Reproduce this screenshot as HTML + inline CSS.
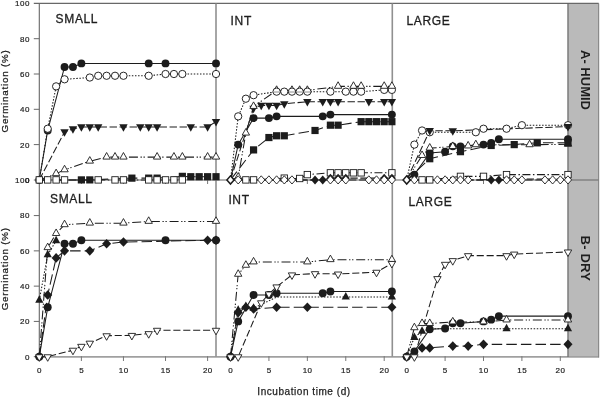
<!DOCTYPE html>
<html lang="en"><head><meta charset="utf-8"><title>Germination vs incubation time</title>
<style>html,body{margin:0;padding:0;background:#fff}svg{display:block}</style></head>
<body>
<svg width="600" height="397" viewBox="0 0 600 397" font-family="'Liberation Sans', Arial, sans-serif">
<rect width="600" height="397" fill="#fff"/>
<rect x="568.40" y="3.4" width="30.30" height="353.30" fill="#bababa"/>
<g id="axes">
<line x1="33.80" y1="3.40" x2="598.70" y2="3.40" stroke="#686868" stroke-width="1.1"/>
<line x1="33.80" y1="180.00" x2="39.30" y2="180.00" stroke="#686868" stroke-width="1.0"/>
<line x1="39.30" y1="180.00" x2="598.70" y2="180.00" stroke="#666" stroke-width="1.1"/>
<line x1="33.80" y1="356.70" x2="39.30" y2="356.70" stroke="#686868" stroke-width="1.0"/>
<line x1="39.30" y1="356.90" x2="598.70" y2="356.90" stroke="#a0a0a0" stroke-width="1.8"/>
<line x1="39.30" y1="3.40" x2="39.30" y2="356.70" stroke="#666" stroke-width="1.1"/>
<line x1="216.00" y1="3.40" x2="216.00" y2="356.70" stroke="#909090" stroke-width="1.6"/>
<line x1="392.30" y1="3.40" x2="392.30" y2="356.70" stroke="#909090" stroke-width="1.6"/>
<line x1="568.00" y1="3.40" x2="568.00" y2="356.70" stroke="#5a5a5a" stroke-width="1.2"/>
<line x1="598.70" y1="3.40" x2="598.70" y2="357.60" stroke="#7a7a7a" stroke-width="1.0"/>
<line x1="33.80" y1="144.60" x2="39.30" y2="144.60" stroke="#686868" stroke-width="1.0"/>
<line x1="33.80" y1="321.42" x2="39.30" y2="321.42" stroke="#686868" stroke-width="1.0"/>
<line x1="33.80" y1="109.30" x2="39.30" y2="109.30" stroke="#686868" stroke-width="1.0"/>
<line x1="33.80" y1="286.14" x2="39.30" y2="286.14" stroke="#686868" stroke-width="1.0"/>
<line x1="33.80" y1="74.00" x2="39.30" y2="74.00" stroke="#686868" stroke-width="1.0"/>
<line x1="33.80" y1="250.86" x2="39.30" y2="250.86" stroke="#686868" stroke-width="1.0"/>
<line x1="33.80" y1="38.70" x2="39.30" y2="38.70" stroke="#686868" stroke-width="1.0"/>
<line x1="33.80" y1="215.58" x2="39.30" y2="215.58" stroke="#686868" stroke-width="1.0"/>
<line x1="39.30" y1="356.70" x2="39.30" y2="360.90" stroke="#5e5e5e" stroke-width="0.9"/>
<line x1="81.38" y1="180.00" x2="81.38" y2="184.00" stroke="#777" stroke-width="1.0"/>
<line x1="81.38" y1="356.20" x2="81.38" y2="361.00" stroke="#777" stroke-width="1.0"/>
<line x1="123.45" y1="180.00" x2="123.45" y2="184.00" stroke="#777" stroke-width="1.0"/>
<line x1="123.45" y1="356.20" x2="123.45" y2="361.00" stroke="#777" stroke-width="1.0"/>
<line x1="165.52" y1="180.00" x2="165.52" y2="184.00" stroke="#777" stroke-width="1.0"/>
<line x1="165.52" y1="356.20" x2="165.52" y2="361.00" stroke="#777" stroke-width="1.0"/>
<line x1="207.60" y1="180.00" x2="207.60" y2="184.00" stroke="#777" stroke-width="1.0"/>
<line x1="207.60" y1="356.20" x2="207.60" y2="361.00" stroke="#777" stroke-width="1.0"/>
<line x1="230.50" y1="180.00" x2="230.50" y2="184.00" stroke="#777" stroke-width="1.0"/>
<line x1="230.50" y1="356.20" x2="230.50" y2="361.00" stroke="#777" stroke-width="1.0"/>
<line x1="268.93" y1="180.00" x2="268.93" y2="184.00" stroke="#777" stroke-width="1.0"/>
<line x1="268.93" y1="356.20" x2="268.93" y2="361.00" stroke="#777" stroke-width="1.0"/>
<line x1="307.35" y1="180.00" x2="307.35" y2="184.00" stroke="#777" stroke-width="1.0"/>
<line x1="307.35" y1="356.20" x2="307.35" y2="361.00" stroke="#777" stroke-width="1.0"/>
<line x1="345.77" y1="180.00" x2="345.77" y2="184.00" stroke="#777" stroke-width="1.0"/>
<line x1="345.77" y1="356.20" x2="345.77" y2="361.00" stroke="#777" stroke-width="1.0"/>
<line x1="384.20" y1="180.00" x2="384.20" y2="184.00" stroke="#777" stroke-width="1.0"/>
<line x1="384.20" y1="356.20" x2="384.20" y2="361.00" stroke="#777" stroke-width="1.0"/>
<line x1="406.70" y1="180.00" x2="406.70" y2="184.00" stroke="#777" stroke-width="1.0"/>
<line x1="406.70" y1="356.20" x2="406.70" y2="361.00" stroke="#777" stroke-width="1.0"/>
<line x1="445.10" y1="180.00" x2="445.10" y2="184.00" stroke="#777" stroke-width="1.0"/>
<line x1="445.10" y1="356.20" x2="445.10" y2="361.00" stroke="#777" stroke-width="1.0"/>
<line x1="483.50" y1="180.00" x2="483.50" y2="184.00" stroke="#777" stroke-width="1.0"/>
<line x1="483.50" y1="356.20" x2="483.50" y2="361.00" stroke="#777" stroke-width="1.0"/>
<line x1="521.90" y1="180.00" x2="521.90" y2="184.00" stroke="#777" stroke-width="1.0"/>
<line x1="521.90" y1="356.20" x2="521.90" y2="361.00" stroke="#777" stroke-width="1.0"/>
<line x1="560.30" y1="180.00" x2="560.30" y2="184.00" stroke="#777" stroke-width="1.0"/>
<line x1="560.30" y1="356.20" x2="560.30" y2="361.00" stroke="#777" stroke-width="1.0"/>
</g>
<g id="AS">
<polyline points="39.30,179.90 47.71,130.48 64.54,66.94 72.96,66.94 81.38,63.41 148.69,63.41 165.52,63.41 216.01,63.41" fill="none" stroke="#1c1c1c" stroke-width="1.05"/>
<polyline points="39.30,179.90 47.71,128.72 56.13,86.36 64.54,79.30 89.79,77.53 98.20,75.77 106.62,75.77 115.03,75.77 123.45,75.77 148.69,75.77 165.52,74.00 173.94,74.00 182.35,74.00 216.01,74.00" fill="none" stroke="#1c1c1c" stroke-width="1.05" stroke-dasharray="1.5,1.6"/>
<polyline points="39.30,179.90 64.54,131.89 72.96,128.89 81.38,126.95 89.79,126.95 98.20,126.95 123.45,126.95 140.28,126.95 148.69,126.95 157.11,126.95 190.77,126.95 207.60,126.95 216.01,121.66" fill="none" stroke="#1c1c1c" stroke-width="1.05" stroke-dasharray="7.4,2.6"/>
<polyline points="39.30,179.90 56.13,173.72 64.54,169.84 89.79,161.19 106.62,157.13 115.03,157.13 123.45,157.13 157.11,157.13 173.94,157.13 182.35,157.13 207.60,157.13 216.01,157.13" fill="none" stroke="#1c1c1c" stroke-width="1.05" stroke-dasharray="9,2.6,1.3,1.7,1.3,2.8"/>
<polyline points="39.30,179.90 81.38,179.90 89.79,179.90 131.87,178.14 148.69,178.14 157.11,178.14 182.35,176.37 190.77,176.72 199.19,176.72 207.60,176.72 216.01,176.72" fill="none" stroke="#1c1c1c" stroke-width="1.05" stroke-dasharray="10.5,4.1"/>
<polyline points="39.30,179.90 47.71,179.90 56.13,179.90 64.54,179.90 98.20,179.90 115.03,179.90 123.45,179.90 148.69,179.90 157.11,179.90 165.52,179.90 173.94,179.90 182.35,179.90" fill="none" stroke="#1c1c1c" stroke-width="1.05" stroke-dasharray="8,2.5,1.5,2.5"/>
<circle cx="39.30" cy="179.90" r="3.95" fill="#1c1c1c"/>
<circle cx="47.71" cy="130.48" r="3.95" fill="#1c1c1c"/>
<circle cx="64.54" cy="66.94" r="3.95" fill="#1c1c1c"/>
<circle cx="72.96" cy="66.94" r="3.95" fill="#1c1c1c"/>
<circle cx="81.38" cy="63.41" r="3.95" fill="#1c1c1c"/>
<circle cx="148.69" cy="63.41" r="3.95" fill="#1c1c1c"/>
<circle cx="165.52" cy="63.41" r="3.95" fill="#1c1c1c"/>
<circle cx="216.01" cy="63.41" r="3.95" fill="#1c1c1c"/>
<circle cx="47.71" cy="128.72" r="3.65" fill="#fff" stroke="#1c1c1c" stroke-width="0.95"/>
<circle cx="56.13" cy="86.36" r="3.65" fill="#fff" stroke="#1c1c1c" stroke-width="0.95"/>
<circle cx="64.54" cy="79.30" r="3.65" fill="#fff" stroke="#1c1c1c" stroke-width="0.95"/>
<circle cx="89.79" cy="77.53" r="3.65" fill="#fff" stroke="#1c1c1c" stroke-width="0.95"/>
<circle cx="98.20" cy="75.77" r="3.65" fill="#fff" stroke="#1c1c1c" stroke-width="0.95"/>
<circle cx="106.62" cy="75.77" r="3.65" fill="#fff" stroke="#1c1c1c" stroke-width="0.95"/>
<circle cx="115.03" cy="75.77" r="3.65" fill="#fff" stroke="#1c1c1c" stroke-width="0.95"/>
<circle cx="123.45" cy="75.77" r="3.65" fill="#fff" stroke="#1c1c1c" stroke-width="0.95"/>
<circle cx="148.69" cy="75.77" r="3.65" fill="#fff" stroke="#1c1c1c" stroke-width="0.95"/>
<circle cx="165.52" cy="74.00" r="3.65" fill="#fff" stroke="#1c1c1c" stroke-width="0.95"/>
<circle cx="173.94" cy="74.00" r="3.65" fill="#fff" stroke="#1c1c1c" stroke-width="0.95"/>
<circle cx="182.35" cy="74.00" r="3.65" fill="#fff" stroke="#1c1c1c" stroke-width="0.95"/>
<circle cx="216.01" cy="74.00" r="3.65" fill="#fff" stroke="#1c1c1c" stroke-width="0.95"/>
<polygon points="60.34,129.29 68.74,129.29 64.54,136.79" fill="#1c1c1c"/>
<polygon points="68.76,126.29 77.16,126.29 72.96,133.79" fill="#1c1c1c"/>
<polygon points="77.17,124.35 85.58,124.35 81.38,131.85" fill="#1c1c1c"/>
<polygon points="85.59,124.35 93.99,124.35 89.79,131.85" fill="#1c1c1c"/>
<polygon points="94.00,124.35 102.40,124.35 98.20,131.85" fill="#1c1c1c"/>
<polygon points="119.25,124.35 127.65,124.35 123.45,131.85" fill="#1c1c1c"/>
<polygon points="136.08,124.35 144.48,124.35 140.28,131.85" fill="#1c1c1c"/>
<polygon points="144.50,124.35 152.89,124.35 148.69,131.85" fill="#1c1c1c"/>
<polygon points="152.91,124.35 161.31,124.35 157.11,131.85" fill="#1c1c1c"/>
<polygon points="186.57,124.35 194.97,124.35 190.77,131.85" fill="#1c1c1c"/>
<polygon points="203.40,124.35 211.80,124.35 207.60,131.85" fill="#1c1c1c"/>
<polygon points="211.81,119.06 220.21,119.06 216.01,126.56" fill="#1c1c1c"/>
<polygon points="56.13,169.12 59.83,175.67 52.43,175.67" fill="#fff" stroke="#1c1c1c" stroke-width="0.9"/>
<polygon points="64.54,165.24 68.24,171.79 60.84,171.79" fill="#fff" stroke="#1c1c1c" stroke-width="0.9"/>
<polygon points="89.79,156.59 93.49,163.14 86.09,163.14" fill="#fff" stroke="#1c1c1c" stroke-width="0.9"/>
<polygon points="106.62,152.53 110.32,159.08 102.92,159.08" fill="#fff" stroke="#1c1c1c" stroke-width="0.9"/>
<polygon points="115.03,152.53 118.73,159.08 111.33,159.08" fill="#fff" stroke="#1c1c1c" stroke-width="0.9"/>
<polygon points="123.45,152.53 127.15,159.08 119.75,159.08" fill="#fff" stroke="#1c1c1c" stroke-width="0.9"/>
<polygon points="157.11,152.53 160.81,159.08 153.41,159.08" fill="#fff" stroke="#1c1c1c" stroke-width="0.9"/>
<polygon points="173.94,152.53 177.64,159.08 170.24,159.08" fill="#fff" stroke="#1c1c1c" stroke-width="0.9"/>
<polygon points="182.35,152.53 186.05,159.08 178.65,159.08" fill="#fff" stroke="#1c1c1c" stroke-width="0.9"/>
<polygon points="207.60,152.53 211.30,159.08 203.90,159.08" fill="#fff" stroke="#1c1c1c" stroke-width="0.9"/>
<polygon points="216.01,152.53 219.71,159.08 212.31,159.08" fill="#fff" stroke="#1c1c1c" stroke-width="0.9"/>
<rect x="77.78" y="176.30" width="7.2" height="7.2" fill="#1c1c1c"/>
<rect x="86.19" y="176.30" width="7.2" height="7.2" fill="#1c1c1c"/>
<rect x="128.27" y="174.54" width="7.2" height="7.2" fill="#1c1c1c"/>
<rect x="145.09" y="174.54" width="7.2" height="7.2" fill="#1c1c1c"/>
<rect x="153.51" y="174.54" width="7.2" height="7.2" fill="#1c1c1c"/>
<rect x="178.75" y="172.77" width="7.2" height="7.2" fill="#1c1c1c"/>
<rect x="187.17" y="173.12" width="7.2" height="7.2" fill="#1c1c1c"/>
<rect x="195.59" y="173.12" width="7.2" height="7.2" fill="#1c1c1c"/>
<rect x="204.00" y="173.12" width="7.2" height="7.2" fill="#1c1c1c"/>
<rect x="212.41" y="173.12" width="7.2" height="7.2" fill="#1c1c1c"/>
<rect x="36.10" y="176.70" width="6.4" height="6.4" fill="#fff" stroke="#1c1c1c" stroke-width="0.9"/>
<rect x="44.51" y="176.70" width="6.4" height="6.4" fill="#fff" stroke="#1c1c1c" stroke-width="0.9"/>
<rect x="52.93" y="176.70" width="6.4" height="6.4" fill="#fff" stroke="#1c1c1c" stroke-width="0.9"/>
<rect x="61.34" y="176.70" width="6.4" height="6.4" fill="#fff" stroke="#1c1c1c" stroke-width="0.9"/>
<rect x="95.00" y="176.70" width="6.4" height="6.4" fill="#fff" stroke="#1c1c1c" stroke-width="0.9"/>
<rect x="111.83" y="176.70" width="6.4" height="6.4" fill="#fff" stroke="#1c1c1c" stroke-width="0.9"/>
<rect x="120.25" y="176.70" width="6.4" height="6.4" fill="#fff" stroke="#1c1c1c" stroke-width="0.9"/>
<rect x="145.50" y="176.70" width="6.4" height="6.4" fill="#fff" stroke="#1c1c1c" stroke-width="0.9"/>
<rect x="153.91" y="176.70" width="6.4" height="6.4" fill="#fff" stroke="#1c1c1c" stroke-width="0.9"/>
<rect x="162.32" y="176.70" width="6.4" height="6.4" fill="#fff" stroke="#1c1c1c" stroke-width="0.9"/>
<rect x="170.74" y="176.70" width="6.4" height="6.4" fill="#fff" stroke="#1c1c1c" stroke-width="0.9"/>
<rect x="179.15" y="176.70" width="6.4" height="6.4" fill="#fff" stroke="#1c1c1c" stroke-width="0.9"/>
</g>
<g id="AI">
<polyline points="230.50,179.90 238.19,144.60 253.56,118.12 268.93,118.12 276.61,116.36 322.72,116.36 330.40,114.60 391.88,114.60" fill="none" stroke="#1c1c1c" stroke-width="1.05"/>
<polyline points="230.50,179.90 253.56,108.24 261.24,105.42 268.93,105.42 276.61,105.42 284.30,103.83 307.35,101.71 322.72,101.71 330.40,101.71 338.09,101.71 368.83,101.71 384.20,101.71 391.88,101.71" fill="none" stroke="#1c1c1c" stroke-width="1.05" stroke-dasharray="7.4,2.6"/>
<polyline points="230.50,179.90 238.19,177.25 245.87,133.13 253.56,106.48 276.61,90.41 291.98,90.41 299.66,90.41 307.35,90.41 338.09,86.36 353.46,86.36 361.14,86.36 384.20,86.36 391.88,86.36" fill="none" stroke="#1c1c1c" stroke-width="1.05" stroke-dasharray="9,2.6,1.3,1.7,1.3,2.8"/>
<polyline points="230.50,179.90 238.19,116.36 245.87,98.71 253.56,95.18 276.61,91.65 284.30,91.65 291.98,91.65 299.66,91.65 307.35,91.65 330.40,91.65 345.77,91.65 353.46,91.65 361.14,91.65 384.20,89.89 391.88,89.89" fill="none" stroke="#1c1c1c" stroke-width="1.05" stroke-dasharray="1.5,1.6"/>

<polyline points="230.50,179.90 253.56,149.90 268.93,137.54 276.61,135.78 284.30,135.78 315.03,130.48 330.40,125.19 338.09,125.19 361.14,121.66 368.83,121.66 376.51,121.66 384.20,121.66 391.88,121.66" fill="none" stroke="#1c1c1c" stroke-width="1.05" stroke-dasharray="10.5,4.1"/>
<polyline points="230.50,179.90 245.87,179.90 253.56,179.90 284.30,178.14 299.66,178.49 307.35,174.61 330.40,172.84 338.09,172.84 345.77,172.84 353.46,172.84 361.14,172.84 391.88,172.84" fill="none" stroke="#1c1c1c" stroke-width="1.05" stroke-dasharray="8,2.5,1.5,2.5"/>
<polyline points="230.50,179.90 315.03,179.90 322.72,179.90 330.40,178.14 338.09,178.14 345.77,178.14 384.20,178.14 391.88,178.14" fill="none" stroke="#1c1c1c" stroke-width="1.05" stroke-dasharray="7.4,2.6"/>
<polyline points="230.50,179.90 238.19,179.90 261.24,179.90 268.93,179.90 276.61,179.90 284.30,179.90 291.98,179.90 330.40,179.90 338.09,179.90 345.77,179.90 368.83,179.90 376.51,179.90 384.20,179.90 391.88,179.90" fill="none" stroke="#1c1c1c" stroke-width="1.05" stroke-dasharray="7.1,2.8"/>
<circle cx="238.19" cy="144.60" r="3.95" fill="#1c1c1c"/>
<circle cx="253.56" cy="118.12" r="3.95" fill="#1c1c1c"/>
<circle cx="268.93" cy="118.12" r="3.95" fill="#1c1c1c"/>
<circle cx="276.61" cy="116.36" r="3.95" fill="#1c1c1c"/>
<circle cx="322.72" cy="116.36" r="3.95" fill="#1c1c1c"/>
<circle cx="330.40" cy="114.60" r="3.95" fill="#1c1c1c"/>
<circle cx="391.88" cy="114.60" r="3.95" fill="#1c1c1c"/>
<polygon points="249.36,105.64 257.75,105.64 253.56,113.14" fill="#1c1c1c"/>
<polygon points="257.04,102.82 265.44,102.82 261.24,110.32" fill="#1c1c1c"/>
<polygon points="264.73,102.82 273.12,102.82 268.93,110.32" fill="#1c1c1c"/>
<polygon points="272.41,102.82 280.81,102.82 276.61,110.32" fill="#1c1c1c"/>
<polygon points="280.10,101.23 288.50,101.23 284.30,108.73" fill="#1c1c1c"/>
<polygon points="303.15,99.11 311.55,99.11 307.35,106.61" fill="#1c1c1c"/>
<polygon points="318.52,99.11 326.92,99.11 322.72,106.61" fill="#1c1c1c"/>
<polygon points="326.20,99.11 334.60,99.11 330.40,106.61" fill="#1c1c1c"/>
<polygon points="333.89,99.11 342.29,99.11 338.09,106.61" fill="#1c1c1c"/>
<polygon points="364.63,99.11 373.03,99.11 368.83,106.61" fill="#1c1c1c"/>
<polygon points="380.00,99.11 388.40,99.11 384.20,106.61" fill="#1c1c1c"/>
<polygon points="387.69,99.11 396.08,99.11 391.88,106.61" fill="#1c1c1c"/>
<polygon points="238.19,172.65 241.88,179.20 234.49,179.20" fill="#fff" stroke="#1c1c1c" stroke-width="0.9"/>
<polygon points="245.87,128.53 249.57,135.08 242.17,135.08" fill="#fff" stroke="#1c1c1c" stroke-width="0.9"/>
<polygon points="253.56,101.88 257.25,108.43 249.86,108.43" fill="#fff" stroke="#1c1c1c" stroke-width="0.9"/>
<polygon points="276.61,85.81 280.31,92.36 272.91,92.36" fill="#fff" stroke="#1c1c1c" stroke-width="0.9"/>
<polygon points="291.98,85.81 295.68,92.36 288.28,92.36" fill="#fff" stroke="#1c1c1c" stroke-width="0.9"/>
<polygon points="299.66,85.81 303.36,92.36 295.96,92.36" fill="#fff" stroke="#1c1c1c" stroke-width="0.9"/>
<polygon points="307.35,85.81 311.05,92.36 303.65,92.36" fill="#fff" stroke="#1c1c1c" stroke-width="0.9"/>
<circle cx="238.19" cy="116.36" r="3.65" fill="#fff" stroke="#1c1c1c" stroke-width="0.95"/>
<circle cx="245.87" cy="98.71" r="3.65" fill="#fff" stroke="#1c1c1c" stroke-width="0.95"/>
<circle cx="253.56" cy="95.18" r="3.65" fill="#fff" stroke="#1c1c1c" stroke-width="0.95"/>
<circle cx="276.61" cy="91.65" r="3.65" fill="#fff" stroke="#1c1c1c" stroke-width="0.95"/>
<circle cx="284.30" cy="91.65" r="3.65" fill="#fff" stroke="#1c1c1c" stroke-width="0.95"/>
<circle cx="291.98" cy="91.65" r="3.65" fill="#fff" stroke="#1c1c1c" stroke-width="0.95"/>
<circle cx="299.66" cy="91.65" r="3.65" fill="#fff" stroke="#1c1c1c" stroke-width="0.95"/>
<circle cx="307.35" cy="91.65" r="3.65" fill="#fff" stroke="#1c1c1c" stroke-width="0.95"/>
<circle cx="330.40" cy="91.65" r="3.65" fill="#fff" stroke="#1c1c1c" stroke-width="0.95"/>
<circle cx="345.77" cy="91.65" r="3.65" fill="#fff" stroke="#1c1c1c" stroke-width="0.95"/>
<circle cx="353.46" cy="91.65" r="3.65" fill="#fff" stroke="#1c1c1c" stroke-width="0.95"/>
<circle cx="361.14" cy="91.65" r="3.65" fill="#fff" stroke="#1c1c1c" stroke-width="0.95"/>
<circle cx="384.20" cy="89.89" r="3.65" fill="#fff" stroke="#1c1c1c" stroke-width="0.95"/>
<circle cx="391.88" cy="89.89" r="3.65" fill="#fff" stroke="#1c1c1c" stroke-width="0.95"/>
<polygon points="338.09,81.76 341.79,88.31 334.39,88.31" fill="#fff" stroke="#1c1c1c" stroke-width="0.9"/>
<polygon points="353.46,81.76 357.16,88.31 349.76,88.31" fill="#fff" stroke="#1c1c1c" stroke-width="0.9"/>
<polygon points="361.14,81.76 364.84,88.31 357.44,88.31" fill="#fff" stroke="#1c1c1c" stroke-width="0.9"/>
<polygon points="384.20,81.76 387.90,88.31 380.50,88.31" fill="#fff" stroke="#1c1c1c" stroke-width="0.9"/>
<polygon points="391.88,81.76 395.58,88.31 388.19,88.31" fill="#fff" stroke="#1c1c1c" stroke-width="0.9"/>
<rect x="249.96" y="146.30" width="7.2" height="7.2" fill="#1c1c1c"/>
<rect x="265.32" y="133.94" width="7.2" height="7.2" fill="#1c1c1c"/>
<rect x="273.01" y="132.18" width="7.2" height="7.2" fill="#1c1c1c"/>
<rect x="280.69" y="132.18" width="7.2" height="7.2" fill="#1c1c1c"/>
<rect x="311.43" y="126.88" width="7.2" height="7.2" fill="#1c1c1c"/>
<rect x="326.80" y="121.59" width="7.2" height="7.2" fill="#1c1c1c"/>
<rect x="334.49" y="121.59" width="7.2" height="7.2" fill="#1c1c1c"/>
<rect x="357.54" y="118.06" width="7.2" height="7.2" fill="#1c1c1c"/>
<rect x="365.23" y="118.06" width="7.2" height="7.2" fill="#1c1c1c"/>
<rect x="372.91" y="118.06" width="7.2" height="7.2" fill="#1c1c1c"/>
<rect x="380.60" y="118.06" width="7.2" height="7.2" fill="#1c1c1c"/>
<rect x="388.28" y="118.06" width="7.2" height="7.2" fill="#1c1c1c"/>
<rect x="242.67" y="176.70" width="6.4" height="6.4" fill="#fff" stroke="#1c1c1c" stroke-width="0.9"/>
<rect x="250.36" y="176.70" width="6.4" height="6.4" fill="#fff" stroke="#1c1c1c" stroke-width="0.9"/>
<rect x="281.10" y="174.94" width="6.4" height="6.4" fill="#fff" stroke="#1c1c1c" stroke-width="0.9"/>
<rect x="296.46" y="175.29" width="6.4" height="6.4" fill="#fff" stroke="#1c1c1c" stroke-width="0.9"/>
<rect x="304.15" y="171.41" width="6.4" height="6.4" fill="#fff" stroke="#1c1c1c" stroke-width="0.9"/>
<rect x="327.20" y="169.64" width="6.4" height="6.4" fill="#fff" stroke="#1c1c1c" stroke-width="0.9"/>
<rect x="334.89" y="169.64" width="6.4" height="6.4" fill="#fff" stroke="#1c1c1c" stroke-width="0.9"/>
<rect x="342.57" y="169.64" width="6.4" height="6.4" fill="#fff" stroke="#1c1c1c" stroke-width="0.9"/>
<rect x="350.26" y="169.64" width="6.4" height="6.4" fill="#fff" stroke="#1c1c1c" stroke-width="0.9"/>
<rect x="357.94" y="169.64" width="6.4" height="6.4" fill="#fff" stroke="#1c1c1c" stroke-width="0.9"/>
<rect x="388.69" y="169.64" width="6.4" height="6.4" fill="#fff" stroke="#1c1c1c" stroke-width="0.9"/>
<polygon points="315.03,175.40 319.03,179.90 315.03,184.40 311.03,179.90" fill="#1c1c1c"/>
<polygon points="322.72,175.40 326.72,179.90 322.72,184.40 318.72,179.90" fill="#1c1c1c"/>
<polygon points="330.40,173.64 334.40,178.14 330.40,182.64 326.40,178.14" fill="#1c1c1c"/>
<polygon points="338.09,173.64 342.09,178.14 338.09,182.64 334.09,178.14" fill="#1c1c1c"/>
<polygon points="345.77,173.64 349.77,178.14 345.77,182.64 341.77,178.14" fill="#1c1c1c"/>
<polygon points="384.20,173.64 388.20,178.14 384.20,182.64 380.20,178.14" fill="#1c1c1c"/>
<polygon points="391.88,173.64 395.88,178.14 391.88,182.64 387.88,178.14" fill="#1c1c1c"/>
<polygon points="230.50,175.80 234.10,179.90 230.50,184.00 226.90,179.90" fill="#fff" stroke="#1c1c1c" stroke-width="1.5"/>
<polygon points="238.19,175.80 241.78,179.90 238.19,184.00 234.59,179.90" fill="#fff" stroke="#1c1c1c" stroke-width="0.9"/>
<polygon points="261.24,175.80 264.84,179.90 261.24,184.00 257.64,179.90" fill="#fff" stroke="#1c1c1c" stroke-width="0.9"/>
<polygon points="268.93,175.80 272.53,179.90 268.93,184.00 265.32,179.90" fill="#fff" stroke="#1c1c1c" stroke-width="0.9"/>
<polygon points="276.61,175.80 280.21,179.90 276.61,184.00 273.01,179.90" fill="#fff" stroke="#1c1c1c" stroke-width="0.9"/>
<polygon points="284.30,175.80 287.90,179.90 284.30,184.00 280.69,179.90" fill="#fff" stroke="#1c1c1c" stroke-width="0.9"/>
<polygon points="291.98,175.80 295.58,179.90 291.98,184.00 288.38,179.90" fill="#fff" stroke="#1c1c1c" stroke-width="0.9"/>
<polygon points="330.40,175.80 334.00,179.90 330.40,184.00 326.80,179.90" fill="#fff" stroke="#1c1c1c" stroke-width="0.9"/>
<polygon points="338.09,175.80 341.69,179.90 338.09,184.00 334.49,179.90" fill="#fff" stroke="#1c1c1c" stroke-width="0.9"/>
<polygon points="345.77,175.80 349.38,179.90 345.77,184.00 342.17,179.90" fill="#fff" stroke="#1c1c1c" stroke-width="0.9"/>
<polygon points="368.83,175.80 372.43,179.90 368.83,184.00 365.23,179.90" fill="#fff" stroke="#1c1c1c" stroke-width="0.9"/>
<polygon points="376.51,175.80 380.12,179.90 376.51,184.00 372.91,179.90" fill="#fff" stroke="#1c1c1c" stroke-width="0.9"/>
<polygon points="384.20,175.80 387.80,179.90 384.20,184.00 380.60,179.90" fill="#fff" stroke="#1c1c1c" stroke-width="0.9"/>
<polygon points="391.88,175.80 395.49,179.90 391.88,184.00 388.28,179.90" fill="#fff" stroke="#1c1c1c" stroke-width="0.9"/>
</g>
<g id="AL">
<polyline points="406.70,179.90 414.38,174.61 429.74,152.90 445.10,151.66 452.78,146.37 460.46,146.37 483.50,144.60 491.18,142.84 498.86,139.31 567.98,139.31" fill="none" stroke="#1c1c1c" stroke-width="1.05"/>
<polyline points="406.70,179.90 414.38,144.60 422.06,130.48 429.74,132.25 475.82,132.25 483.50,128.72 506.54,128.72 521.90,125.19 567.98,125.19" fill="none" stroke="#1c1c1c" stroke-width="1.05" stroke-dasharray="1.5,1.6"/>
<polyline points="406.70,179.90 429.74,130.66 452.78,130.83 567.98,126.60" fill="none" stroke="#1c1c1c" stroke-width="1.05" stroke-dasharray="7.4,2.6"/>
<polyline points="406.70,179.90 422.06,155.54 429.74,148.13 452.78,146.54 468.14,146.01 475.82,144.78 529.58,144.78 567.98,144.25" fill="none" stroke="#1c1c1c" stroke-width="1.05" stroke-dasharray="9,2.6,1.3,1.7,1.3,2.8"/>
<polyline points="406.70,179.90 429.74,158.72 460.46,151.66 491.18,145.48 514.22,144.60 537.26,142.84 567.98,142.84" fill="none" stroke="#1c1c1c" stroke-width="1.05" stroke-dasharray="10.5,4.1"/>
<polyline points="406.70,179.90 422.06,179.90 429.74,179.90 460.46,176.37 483.50,176.37 506.54,174.61 567.98,174.61" fill="none" stroke="#1c1c1c" stroke-width="1.05" stroke-dasharray="8,2.5,1.5,2.5"/>
<polyline points="406.70,179.90 491.18,179.90 498.86,179.90 506.54,179.02 567.98,179.02" fill="none" stroke="#1c1c1c" stroke-width="1.05" stroke-dasharray="7.4,2.6"/>
<polyline points="406.70,179.90 414.38,179.90 437.42,179.90 445.10,179.90 452.78,179.90 460.46,179.90 468.14,179.90 506.54,179.90 514.22,179.90 521.90,179.90 544.94,179.90 552.62,179.90 560.30,179.90 567.98,179.90" fill="none" stroke="#1c1c1c" stroke-width="1.05" stroke-dasharray="7.1,2.8"/>
<circle cx="414.38" cy="174.61" r="3.95" fill="#1c1c1c"/>
<circle cx="429.74" cy="152.90" r="3.95" fill="#1c1c1c"/>
<circle cx="445.10" cy="151.66" r="3.95" fill="#1c1c1c"/>
<circle cx="452.78" cy="146.37" r="3.95" fill="#1c1c1c"/>
<circle cx="460.46" cy="146.37" r="3.95" fill="#1c1c1c"/>
<circle cx="483.50" cy="144.60" r="3.95" fill="#1c1c1c"/>
<circle cx="491.18" cy="142.84" r="3.95" fill="#1c1c1c"/>
<circle cx="498.86" cy="139.31" r="3.95" fill="#1c1c1c"/>
<circle cx="567.98" cy="139.31" r="3.95" fill="#1c1c1c"/>
<circle cx="414.38" cy="144.60" r="3.65" fill="#fff" stroke="#1c1c1c" stroke-width="0.95"/>
<circle cx="422.06" cy="130.48" r="3.65" fill="#fff" stroke="#1c1c1c" stroke-width="0.95"/>
<circle cx="429.74" cy="132.25" r="3.65" fill="#fff" stroke="#1c1c1c" stroke-width="0.95"/>
<circle cx="475.82" cy="132.25" r="3.65" fill="#fff" stroke="#1c1c1c" stroke-width="0.95"/>
<circle cx="483.50" cy="128.72" r="3.65" fill="#fff" stroke="#1c1c1c" stroke-width="0.95"/>
<circle cx="506.54" cy="128.72" r="3.65" fill="#fff" stroke="#1c1c1c" stroke-width="0.95"/>
<circle cx="521.90" cy="125.19" r="3.65" fill="#fff" stroke="#1c1c1c" stroke-width="0.95"/>
<circle cx="567.98" cy="125.19" r="3.65" fill="#fff" stroke="#1c1c1c" stroke-width="0.95"/>
<polygon points="425.54,128.06 433.94,128.06 429.74,135.56" fill="#1c1c1c"/>
<polygon points="448.58,128.23 456.98,128.23 452.78,135.73" fill="#1c1c1c"/>
<polygon points="563.78,124.00 572.18,124.00 567.98,131.50" fill="#1c1c1c"/>
<polygon points="422.06,150.94 425.76,157.49 418.36,157.49" fill="#fff" stroke="#1c1c1c" stroke-width="0.9"/>
<polygon points="429.74,143.53 433.44,150.08 426.04,150.08" fill="#fff" stroke="#1c1c1c" stroke-width="0.9"/>
<polygon points="452.78,141.94 456.48,148.49 449.08,148.49" fill="#fff" stroke="#1c1c1c" stroke-width="0.9"/>
<polygon points="468.14,141.41 471.84,147.96 464.44,147.96" fill="#fff" stroke="#1c1c1c" stroke-width="0.9"/>
<polygon points="475.82,140.18 479.52,146.73 472.12,146.73" fill="#fff" stroke="#1c1c1c" stroke-width="0.9"/>
<polygon points="529.58,140.18 533.28,146.73 525.88,146.73" fill="#fff" stroke="#1c1c1c" stroke-width="0.9"/>
<polygon points="567.98,139.65 571.68,146.20 564.28,146.20" fill="#fff" stroke="#1c1c1c" stroke-width="0.9"/>
<rect x="426.14" y="155.12" width="7.2" height="7.2" fill="#1c1c1c"/>
<rect x="456.86" y="148.06" width="7.2" height="7.2" fill="#1c1c1c"/>
<rect x="487.58" y="141.88" width="7.2" height="7.2" fill="#1c1c1c"/>
<rect x="510.62" y="141.00" width="7.2" height="7.2" fill="#1c1c1c"/>
<rect x="533.66" y="139.24" width="7.2" height="7.2" fill="#1c1c1c"/>
<rect x="564.38" y="139.24" width="7.2" height="7.2" fill="#1c1c1c"/>
<rect x="418.86" y="176.70" width="6.4" height="6.4" fill="#fff" stroke="#1c1c1c" stroke-width="0.9"/>
<rect x="426.54" y="176.70" width="6.4" height="6.4" fill="#fff" stroke="#1c1c1c" stroke-width="0.9"/>
<rect x="457.26" y="173.17" width="6.4" height="6.4" fill="#fff" stroke="#1c1c1c" stroke-width="0.9"/>
<rect x="480.30" y="173.17" width="6.4" height="6.4" fill="#fff" stroke="#1c1c1c" stroke-width="0.9"/>
<rect x="503.34" y="171.41" width="6.4" height="6.4" fill="#fff" stroke="#1c1c1c" stroke-width="0.9"/>
<rect x="564.78" y="171.41" width="6.4" height="6.4" fill="#fff" stroke="#1c1c1c" stroke-width="0.9"/>
<polygon points="491.18,175.40 495.18,179.90 491.18,184.40 487.18,179.90" fill="#1c1c1c"/>
<polygon points="498.86,175.40 502.86,179.90 498.86,184.40 494.86,179.90" fill="#1c1c1c"/>
<polygon points="406.70,175.80 410.30,179.90 406.70,184.00 403.10,179.90" fill="#fff" stroke="#1c1c1c" stroke-width="1.5"/>
<polygon points="414.38,175.80 417.98,179.90 414.38,184.00 410.78,179.90" fill="#fff" stroke="#1c1c1c" stroke-width="0.9"/>
<polygon points="437.42,175.80 441.02,179.90 437.42,184.00 433.82,179.90" fill="#fff" stroke="#1c1c1c" stroke-width="0.9"/>
<polygon points="445.10,175.80 448.70,179.90 445.10,184.00 441.50,179.90" fill="#fff" stroke="#1c1c1c" stroke-width="0.9"/>
<polygon points="452.78,175.80 456.38,179.90 452.78,184.00 449.18,179.90" fill="#fff" stroke="#1c1c1c" stroke-width="0.9"/>
<polygon points="460.46,175.80 464.06,179.90 460.46,184.00 456.86,179.90" fill="#fff" stroke="#1c1c1c" stroke-width="0.9"/>
<polygon points="468.14,175.80 471.74,179.90 468.14,184.00 464.54,179.90" fill="#fff" stroke="#1c1c1c" stroke-width="0.9"/>
<polygon points="506.54,175.80 510.14,179.90 506.54,184.00 502.94,179.90" fill="#fff" stroke="#1c1c1c" stroke-width="0.9"/>
<polygon points="514.22,175.80 517.82,179.90 514.22,184.00 510.62,179.90" fill="#fff" stroke="#1c1c1c" stroke-width="0.9"/>
<polygon points="521.90,175.80 525.50,179.90 521.90,184.00 518.30,179.90" fill="#fff" stroke="#1c1c1c" stroke-width="0.9"/>
<polygon points="544.94,175.80 548.54,179.90 544.94,184.00 541.34,179.90" fill="#fff" stroke="#1c1c1c" stroke-width="0.9"/>
<polygon points="552.62,175.80 556.22,179.90 552.62,184.00 549.02,179.90" fill="#fff" stroke="#1c1c1c" stroke-width="0.9"/>
<polygon points="560.30,175.80 563.90,179.90 560.30,184.00 556.70,179.90" fill="#fff" stroke="#1c1c1c" stroke-width="0.9"/>
<polygon points="567.98,175.80 571.58,179.90 567.98,184.00 564.38,179.90" fill="#fff" stroke="#1c1c1c" stroke-width="0.9"/>
</g>
<g id="BS">
<polyline points="39.30,356.70 47.71,307.31 64.54,243.80 72.96,243.80 81.38,240.28 165.52,240.28 216.01,240.28" fill="none" stroke="#1c1c1c" stroke-width="1.05"/>
<polyline points="39.30,300.25 47.71,254.74 56.13,240.81" fill="none" stroke="#1c1c1c" stroke-width="1.05" stroke-dasharray="1.5,1.6"/>
<polyline points="39.30,356.70 47.71,294.96 56.13,257.92 64.54,250.86 89.79,250.86 106.62,243.80 123.45,242.04 207.60,240.28 216.01,240.28" fill="none" stroke="#1c1c1c" stroke-width="1.05" stroke-dasharray="10.5,4.1"/>
<polyline points="39.30,356.70 47.71,247.68 56.13,233.57 64.54,224.75 89.79,223.17 123.45,223.17 148.69,221.40 216.01,221.40" fill="none" stroke="#1c1c1c" stroke-width="1.05" stroke-dasharray="9,2.6,1.3,1.7,1.3,2.8"/>
<polyline points="39.30,356.70 47.71,356.70 72.96,350.17 81.38,346.29 89.79,343.12 106.62,335.71 131.87,335.36 148.69,333.59 157.11,330.24 216.01,330.24" fill="none" stroke="#1c1c1c" stroke-width="1.05" stroke-dasharray="7.1,2.8"/>
<circle cx="39.30" cy="356.70" r="3.95" fill="#1c1c1c"/>
<circle cx="47.71" cy="307.31" r="3.95" fill="#1c1c1c"/>
<circle cx="64.54" cy="243.80" r="3.95" fill="#1c1c1c"/>
<circle cx="72.96" cy="243.80" r="3.95" fill="#1c1c1c"/>
<circle cx="81.38" cy="240.28" r="3.95" fill="#1c1c1c"/>
<circle cx="165.52" cy="240.28" r="3.95" fill="#1c1c1c"/>
<circle cx="216.01" cy="240.28" r="3.95" fill="#1c1c1c"/>
<polygon points="39.30,295.25 43.40,302.75 35.20,302.75" fill="#1c1c1c"/>
<polygon points="47.71,249.74 51.81,257.24 43.61,257.24" fill="#1c1c1c"/>
<polygon points="56.13,235.81 60.23,243.31 52.03,243.31" fill="#1c1c1c"/>
<polygon points="39.30,351.90 43.85,356.70 39.30,361.50 34.75,356.70" fill="#1c1c1c"/>
<polygon points="47.71,290.16 52.26,294.96 47.71,299.76 43.16,294.96" fill="#1c1c1c"/>
<polygon points="56.13,253.12 60.68,257.92 56.13,262.72 51.58,257.92" fill="#1c1c1c"/>
<polygon points="64.54,246.06 69.09,250.86 64.54,255.66 59.99,250.86" fill="#1c1c1c"/>
<polygon points="89.79,246.06 94.34,250.86 89.79,255.66 85.24,250.86" fill="#1c1c1c"/>
<polygon points="106.62,239.00 111.17,243.80 106.62,248.60 102.07,243.80" fill="#1c1c1c"/>
<polygon points="123.45,237.24 128.00,242.04 123.45,246.84 118.90,242.04" fill="#1c1c1c"/>
<polygon points="207.60,235.48 212.15,240.28 207.60,245.08 203.05,240.28" fill="#1c1c1c"/>
<polygon points="216.01,235.48 220.56,240.28 216.01,245.08 211.46,240.28" fill="#1c1c1c"/>
<polygon points="47.71,243.08 51.41,249.63 44.01,249.63" fill="#fff" stroke="#1c1c1c" stroke-width="0.9"/>
<polygon points="56.13,228.97 59.83,235.52 52.43,235.52" fill="#fff" stroke="#1c1c1c" stroke-width="0.9"/>
<polygon points="64.54,220.15 68.24,226.70 60.84,226.70" fill="#fff" stroke="#1c1c1c" stroke-width="0.9"/>
<polygon points="89.79,218.57 93.49,225.12 86.09,225.12" fill="#fff" stroke="#1c1c1c" stroke-width="0.9"/>
<polygon points="123.45,218.57 127.15,225.12 119.75,225.12" fill="#fff" stroke="#1c1c1c" stroke-width="0.9"/>
<polygon points="148.69,216.80 152.39,223.35 145.00,223.35" fill="#fff" stroke="#1c1c1c" stroke-width="0.9"/>
<polygon points="216.01,216.80 219.71,223.35 212.31,223.35" fill="#fff" stroke="#1c1c1c" stroke-width="0.9"/>
<polygon points="35.60,354.75 43.00,354.75 39.30,361.30" fill="#fff" stroke="#1c1c1c" stroke-width="0.9"/>
<polygon points="44.01,354.75 51.41,354.75 47.71,361.30" fill="#fff" stroke="#1c1c1c" stroke-width="0.9"/>
<polygon points="69.26,348.22 76.66,348.22 72.96,354.77" fill="#fff" stroke="#1c1c1c" stroke-width="0.9"/>
<polygon points="77.67,344.34 85.08,344.34 81.38,350.89" fill="#fff" stroke="#1c1c1c" stroke-width="0.9"/>
<polygon points="86.09,341.17 93.49,341.17 89.79,347.72" fill="#fff" stroke="#1c1c1c" stroke-width="0.9"/>
<polygon points="102.92,333.76 110.32,333.76 106.62,340.31" fill="#fff" stroke="#1c1c1c" stroke-width="0.9"/>
<polygon points="128.17,333.41 135.56,333.41 131.87,339.96" fill="#fff" stroke="#1c1c1c" stroke-width="0.9"/>
<polygon points="145.00,331.64 152.39,331.64 148.69,338.19" fill="#fff" stroke="#1c1c1c" stroke-width="0.9"/>
<polygon points="153.41,328.29 160.81,328.29 157.11,334.84" fill="#fff" stroke="#1c1c1c" stroke-width="0.9"/>
<polygon points="212.31,328.29 219.71,328.29 216.01,334.84" fill="#fff" stroke="#1c1c1c" stroke-width="0.9"/>
</g>
<g id="BI">
<polyline points="230.50,356.70 238.19,321.42 253.56,294.96 268.93,294.96 276.61,293.20 322.72,293.20 330.40,291.43 391.88,291.43" fill="none" stroke="#1c1c1c" stroke-width="1.05"/>
<polyline points="230.50,356.70 238.19,310.13 245.87,306.60 253.56,308.19 276.61,297.08 345.77,297.08 391.88,297.08" fill="none" stroke="#1c1c1c" stroke-width="1.05" stroke-dasharray="1.5,1.6"/>
<polyline points="230.50,356.70 238.19,312.60 245.87,307.31 253.56,309.07 276.61,307.31 307.35,307.31 391.88,307.31" fill="none" stroke="#1c1c1c" stroke-width="1.05" stroke-dasharray="10.5,4.1"/>
<polyline points="230.50,356.70 238.19,274.32 245.87,265.32 253.56,261.97 307.35,261.97 330.40,259.68 391.88,259.86" fill="none" stroke="#1c1c1c" stroke-width="1.05" stroke-dasharray="9,2.6,1.3,1.7,1.3,2.8"/>
<polyline points="230.50,356.70 238.19,356.70 261.24,302.72 268.93,293.90 276.61,286.85 291.98,274.85 315.03,273.62 338.09,273.97 376.51,272.20 391.88,263.38" fill="none" stroke="#1c1c1c" stroke-width="1.05" stroke-dasharray="7.1,2.8"/>
<circle cx="230.50" cy="356.70" r="3.95" fill="#1c1c1c"/>
<circle cx="238.19" cy="321.42" r="3.95" fill="#1c1c1c"/>
<circle cx="253.56" cy="294.96" r="3.95" fill="#1c1c1c"/>
<circle cx="268.93" cy="294.96" r="3.95" fill="#1c1c1c"/>
<circle cx="276.61" cy="293.20" r="3.95" fill="#1c1c1c"/>
<circle cx="322.72" cy="293.20" r="3.95" fill="#1c1c1c"/>
<circle cx="330.40" cy="291.43" r="3.95" fill="#1c1c1c"/>
<circle cx="391.88" cy="291.43" r="3.95" fill="#1c1c1c"/>
<polygon points="238.19,305.13 242.28,312.63 234.09,312.63" fill="#1c1c1c"/>
<polygon points="245.87,301.60 249.97,309.10 241.77,309.10" fill="#1c1c1c"/>
<polygon points="253.56,303.19 257.66,310.69 249.46,310.69" fill="#1c1c1c"/>
<polygon points="345.77,292.08 349.88,299.58 341.67,299.58" fill="#1c1c1c"/>
<polygon points="391.88,292.08 395.99,299.58 387.78,299.58" fill="#1c1c1c"/>
<polygon points="230.50,351.90 235.05,356.70 230.50,361.50 225.95,356.70" fill="#1c1c1c"/>
<polygon points="238.19,307.80 242.74,312.60 238.19,317.40 233.63,312.60" fill="#1c1c1c"/>
<polygon points="245.87,302.51 250.42,307.31 245.87,312.11 241.32,307.31" fill="#1c1c1c"/>
<polygon points="253.56,304.27 258.11,309.07 253.56,313.87 249.00,309.07" fill="#1c1c1c"/>
<polygon points="276.61,302.51 281.16,307.31 276.61,312.11 272.06,307.31" fill="#1c1c1c"/>
<polygon points="307.35,302.51 311.90,307.31 307.35,312.11 302.80,307.31" fill="#1c1c1c"/>
<polygon points="391.88,302.51 396.44,307.31 391.88,312.11 387.33,307.31" fill="#1c1c1c"/>
<polygon points="238.19,269.72 241.88,276.27 234.49,276.27" fill="#fff" stroke="#1c1c1c" stroke-width="0.9"/>
<polygon points="245.87,260.72 249.57,267.27 242.17,267.27" fill="#fff" stroke="#1c1c1c" stroke-width="0.9"/>
<polygon points="253.56,257.37 257.25,263.92 249.86,263.92" fill="#fff" stroke="#1c1c1c" stroke-width="0.9"/>
<polygon points="307.35,257.37 311.05,263.92 303.65,263.92" fill="#fff" stroke="#1c1c1c" stroke-width="0.9"/>
<polygon points="330.40,255.08 334.10,261.63 326.70,261.63" fill="#fff" stroke="#1c1c1c" stroke-width="0.9"/>
<polygon points="391.88,255.26 395.58,261.81 388.19,261.81" fill="#fff" stroke="#1c1c1c" stroke-width="0.9"/>
<polygon points="226.80,354.75 234.20,354.75 230.50,361.30" fill="#fff" stroke="#1c1c1c" stroke-width="0.9"/>
<polygon points="234.49,354.75 241.88,354.75 238.19,361.30" fill="#fff" stroke="#1c1c1c" stroke-width="0.9"/>
<polygon points="257.54,300.77 264.94,300.77 261.24,307.32" fill="#fff" stroke="#1c1c1c" stroke-width="0.9"/>
<polygon points="265.23,291.95 272.62,291.95 268.93,298.50" fill="#fff" stroke="#1c1c1c" stroke-width="0.9"/>
<polygon points="272.91,284.90 280.31,284.90 276.61,291.45" fill="#fff" stroke="#1c1c1c" stroke-width="0.9"/>
<polygon points="288.28,272.90 295.68,272.90 291.98,279.45" fill="#fff" stroke="#1c1c1c" stroke-width="0.9"/>
<polygon points="311.33,271.67 318.73,271.67 315.03,278.22" fill="#fff" stroke="#1c1c1c" stroke-width="0.9"/>
<polygon points="334.39,272.02 341.79,272.02 338.09,278.57" fill="#fff" stroke="#1c1c1c" stroke-width="0.9"/>
<polygon points="372.81,270.25 380.21,270.25 376.51,276.80" fill="#fff" stroke="#1c1c1c" stroke-width="0.9"/>
<polygon points="388.19,261.43 395.58,261.43 391.88,267.98" fill="#fff" stroke="#1c1c1c" stroke-width="0.9"/>
</g>
<g id="BL">
<polyline points="406.70,356.70 414.38,351.41 429.74,329.18 445.10,328.48 452.78,323.18 460.46,323.18 483.50,321.42 491.18,319.66 498.86,316.13 567.98,316.13" fill="none" stroke="#1c1c1c" stroke-width="1.05"/>
<polyline points="406.70,356.70 414.38,337.47 422.06,331.30 429.74,328.65 506.54,328.65 567.98,328.65" fill="none" stroke="#1c1c1c" stroke-width="1.05" stroke-dasharray="1.5,1.6"/>
<polyline points="406.70,356.70 414.38,351.41 422.06,347.88 429.74,347.88 452.78,346.12 468.14,346.12 483.50,344.35 567.98,344.35" fill="none" stroke="#1c1c1c" stroke-width="1.05" stroke-dasharray="10.5,4.1"/>
<polyline points="406.70,356.70 414.38,327.77 422.06,323.54 429.74,323.54 452.78,321.95 483.50,321.95 506.54,320.01 567.98,320.01" fill="none" stroke="#1c1c1c" stroke-width="1.05" stroke-dasharray="9,2.6,1.3,1.7,1.3,2.8"/>
<polyline points="406.70,356.70 414.38,356.70 437.42,278.55 445.10,264.27 452.78,260.56 468.14,255.62 506.54,255.62 514.22,254.04 567.98,251.92" fill="none" stroke="#1c1c1c" stroke-width="1.05" stroke-dasharray="7.1,2.8"/>
<circle cx="406.70" cy="356.70" r="3.95" fill="#1c1c1c"/>
<circle cx="414.38" cy="351.41" r="3.95" fill="#1c1c1c"/>
<circle cx="429.74" cy="329.18" r="3.95" fill="#1c1c1c"/>
<circle cx="445.10" cy="328.48" r="3.95" fill="#1c1c1c"/>
<circle cx="452.78" cy="323.18" r="3.95" fill="#1c1c1c"/>
<circle cx="460.46" cy="323.18" r="3.95" fill="#1c1c1c"/>
<circle cx="483.50" cy="321.42" r="3.95" fill="#1c1c1c"/>
<circle cx="491.18" cy="319.66" r="3.95" fill="#1c1c1c"/>
<circle cx="498.86" cy="316.13" r="3.95" fill="#1c1c1c"/>
<circle cx="567.98" cy="316.13" r="3.95" fill="#1c1c1c"/>
<polygon points="414.38,332.47 418.48,339.97 410.28,339.97" fill="#1c1c1c"/>
<polygon points="422.06,326.30 426.16,333.80 417.96,333.80" fill="#1c1c1c"/>
<polygon points="506.54,323.65 510.64,331.15 502.44,331.15" fill="#1c1c1c"/>
<polygon points="567.98,323.65 572.08,331.15 563.88,331.15" fill="#1c1c1c"/>
<polygon points="406.70,351.90 411.25,356.70 406.70,361.50 402.15,356.70" fill="#1c1c1c"/>
<polygon points="422.06,343.08 426.61,347.88 422.06,352.68 417.51,347.88" fill="#1c1c1c"/>
<polygon points="429.74,343.08 434.29,347.88 429.74,352.68 425.19,347.88" fill="#1c1c1c"/>
<polygon points="452.78,341.32 457.33,346.12 452.78,350.92 448.23,346.12" fill="#1c1c1c"/>
<polygon points="468.14,341.32 472.69,346.12 468.14,350.92 463.59,346.12" fill="#1c1c1c"/>
<polygon points="483.50,339.55 488.05,344.35 483.50,349.15 478.95,344.35" fill="#1c1c1c"/>
<polygon points="567.98,339.55 572.53,344.35 567.98,349.15 563.43,344.35" fill="#1c1c1c"/>
<polygon points="414.38,323.17 418.08,329.72 410.68,329.72" fill="#fff" stroke="#1c1c1c" stroke-width="0.9"/>
<polygon points="422.06,318.94 425.76,325.49 418.36,325.49" fill="#fff" stroke="#1c1c1c" stroke-width="0.9"/>
<polygon points="429.74,318.94 433.44,325.49 426.04,325.49" fill="#fff" stroke="#1c1c1c" stroke-width="0.9"/>
<polygon points="452.78,317.35 456.48,323.90 449.08,323.90" fill="#fff" stroke="#1c1c1c" stroke-width="0.9"/>
<polygon points="483.50,317.35 487.20,323.90 479.80,323.90" fill="#fff" stroke="#1c1c1c" stroke-width="0.9"/>
<polygon points="506.54,315.41 510.24,321.96 502.84,321.96" fill="#fff" stroke="#1c1c1c" stroke-width="0.9"/>
<polygon points="567.98,315.41 571.68,321.96 564.28,321.96" fill="#fff" stroke="#1c1c1c" stroke-width="0.9"/>
<polygon points="403.00,354.75 410.40,354.75 406.70,361.30" fill="#fff" stroke="#1c1c1c" stroke-width="0.9"/>
<polygon points="410.68,354.75 418.08,354.75 414.38,361.30" fill="#fff" stroke="#1c1c1c" stroke-width="0.9"/>
<polygon points="433.72,276.60 441.12,276.60 437.42,283.15" fill="#fff" stroke="#1c1c1c" stroke-width="0.9"/>
<polygon points="441.40,262.32 448.80,262.32 445.10,268.87" fill="#fff" stroke="#1c1c1c" stroke-width="0.9"/>
<polygon points="449.08,258.61 456.48,258.61 452.78,265.16" fill="#fff" stroke="#1c1c1c" stroke-width="0.9"/>
<polygon points="464.44,253.67 471.84,253.67 468.14,260.22" fill="#fff" stroke="#1c1c1c" stroke-width="0.9"/>
<polygon points="502.84,253.67 510.24,253.67 506.54,260.22" fill="#fff" stroke="#1c1c1c" stroke-width="0.9"/>
<polygon points="510.52,252.09 517.92,252.09 514.22,258.64" fill="#fff" stroke="#1c1c1c" stroke-width="0.9"/>
<polygon points="564.28,249.97 571.68,249.97 567.98,256.52" fill="#fff" stroke="#1c1c1c" stroke-width="0.9"/>
</g>
<line x1="273.61" y1="92.01" x2="279.61" y2="92.01" stroke="#a8a8a8" stroke-width="1.3"/>
<line x1="288.98" y1="92.01" x2="294.98" y2="92.01" stroke="#a8a8a8" stroke-width="1.3"/>
<line x1="296.66" y1="92.01" x2="302.66" y2="92.01" stroke="#a8a8a8" stroke-width="1.3"/>
<line x1="304.35" y1="92.01" x2="310.35" y2="92.01" stroke="#a8a8a8" stroke-width="1.3"/>
<g fill="#1e1e1e" stroke="#1e1e1e" stroke-width="0.2" font-size="8" letter-spacing="0.5">
<text x="29.9" y="182.80" text-anchor="end">0</text>
<text x="29.9" y="147.50" text-anchor="end">20</text>
<text x="29.9" y="112.20" text-anchor="end">40</text>
<text x="29.9" y="76.90" text-anchor="end">60</text>
<text x="29.9" y="41.60" text-anchor="end">80</text>
<text x="29.9" y="6.30" text-anchor="end">100</text>
<text x="29.9" y="359.60" text-anchor="end">0</text>
<text x="29.9" y="324.32" text-anchor="end">20</text>
<text x="29.9" y="289.04" text-anchor="end">40</text>
<text x="29.9" y="253.76" text-anchor="end">60</text>
<text x="29.9" y="218.48" text-anchor="end">80</text>
<text x="29.9" y="183.20" text-anchor="end">100</text>
<text x="39.55" y="373.1" text-anchor="middle">0</text>
<text x="81.62" y="373.1" text-anchor="middle">5</text>
<text x="123.70" y="373.1" text-anchor="middle">10</text>
<text x="165.77" y="373.1" text-anchor="middle">15</text>
<text x="207.85" y="373.1" text-anchor="middle">20</text>
<text x="230.75" y="373.1" text-anchor="middle">0</text>
<text x="269.18" y="373.1" text-anchor="middle">5</text>
<text x="307.60" y="373.1" text-anchor="middle">10</text>
<text x="346.02" y="373.1" text-anchor="middle">15</text>
<text x="384.45" y="373.1" text-anchor="middle">20</text>
<text x="406.95" y="373.1" text-anchor="middle">0</text>
<text x="445.35" y="373.1" text-anchor="middle">5</text>
<text x="483.75" y="373.1" text-anchor="middle">10</text>
<text x="522.15" y="373.1" text-anchor="middle">15</text>
<text x="560.55" y="373.1" text-anchor="middle">20</text>
</g>
<g fill="#1e1e1e" stroke="#1e1e1e" stroke-width="0.3" font-size="12" letter-spacing="0.65">
<text x="55.6" y="22.8">SMALL</text>
<text x="230.6" y="24.9">INT</text>
<text x="406.5" y="25.4">LARGE</text>
<text x="50.0" y="202.9">SMALL</text>
<text x="228.4" y="204.2">INT</text>
<text x="408.4" y="205.9">LARGE</text>
</g>
<text x="304" y="394.6" text-anchor="middle" font-size="10" letter-spacing="0.55" fill="#1e1e1e" stroke="#1e1e1e" stroke-width="0.25">Incubation time (d)</text>
<text transform="translate(7.9,91.0) rotate(-90)" text-anchor="middle" font-size="9.8" letter-spacing="0.78" fill="#1e1e1e" stroke="#1e1e1e" stroke-width="0.25">Germination (%)</text>
<text transform="translate(7.9,268.8) rotate(-90)" text-anchor="middle" font-size="9.8" letter-spacing="0.78" fill="#1e1e1e" stroke="#1e1e1e" stroke-width="0.25">Germination (%)</text>
<text transform="translate(580.9,80) rotate(90)" text-anchor="middle" font-size="13" font-weight="bold" letter-spacing="0" fill="#1e1e1e">A- HUMID</text>
<text transform="translate(581.3,258.3) rotate(90)" text-anchor="middle" font-size="13" font-weight="bold" letter-spacing="0.2" fill="#1e1e1e">B- DRY</text>
</svg>
</body></html>
